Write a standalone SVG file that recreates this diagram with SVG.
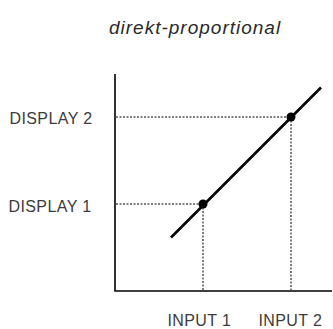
<svg xmlns="http://www.w3.org/2000/svg" width="333" height="329" viewBox="0 0 333 329">
  <style>
    .label { font-family: "Liberation Sans", Arial, sans-serif; font-size: 16px; letter-spacing: 0.4px; fill: #3c3c3c; }
    .title { font-family: "Liberation Sans", Arial, sans-serif; font-size: 19px; font-style: italic; letter-spacing: 1px; fill: #2a2a2a; }
    .axis { stroke: #000; stroke-width: 1.6; fill: none; }
    .guide { stroke: #000; stroke-width: 1; stroke-dasharray: 2 1.5; fill: none; }
    .curve { stroke: #000; stroke-width: 2.6; fill: none; stroke-linecap: butt; }
    .dot { fill: #000; }
  </style>
  <rect width="333" height="329" fill="#fff"/>

  <text class="title" x="109" y="33.5">direkt-proportional</text>

  <!-- axes -->
  <g id="axes">
    <path class="axis" d="M115,74 V291 H332"/>
  </g>

  <!-- dotted guide lines -->
  <g id="connectors">
    <path class="guide" d="M116,117 H291"/>
    <path class="guide" d="M116,204 H203"/>
    <path class="guide" d="M203,204 V290"/>
    <path class="guide" d="M291,117 V290"/>
  </g>

  <!-- proportional line -->
  <g id="line">
    <path class="curve" d="M171,237.5 L321,87.5"/>
  </g>

  <g id="point1"><circle class="dot" cx="203" cy="204" r="4.5"/></g>
  <g id="point2"><circle class="dot" cx="291" cy="117" r="4.5"/></g>

  <g id="display2"><text class="label" x="9.5" y="124">DISPLAY 2</text></g>
  <g id="display1"><text class="label" x="8.5" y="212">DISPLAY 1</text></g>
  <g id="input1"><text class="label" x="167.5" y="325.5">INPUT 1</text></g>
  <g id="input2"><text class="label" x="258.5" y="325.5">INPUT 2</text></g>
</svg>
